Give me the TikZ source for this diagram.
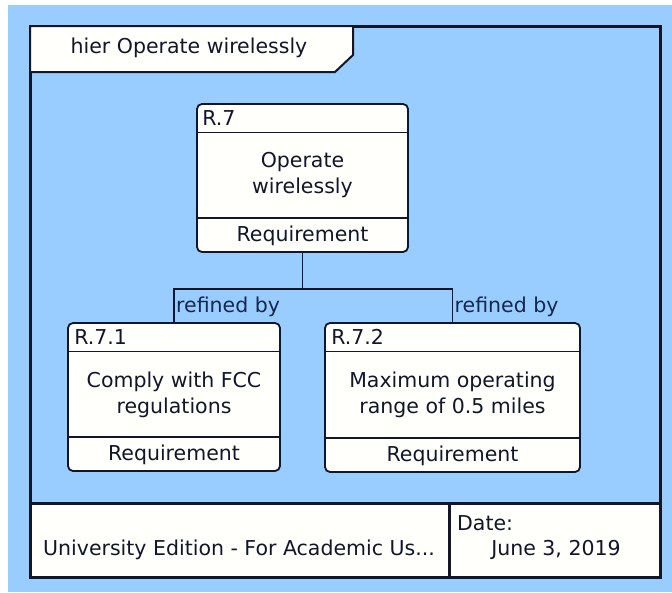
\documentclass[tikz,border=0pt]{standalone}
\usepackage{fontspec}
\setmainfont{DejaVu Sans}
\usetikzlibrary{calc}
\definecolor{canvas}{RGB}{153,204,255}
\definecolor{ink}{RGB}{18,22,40}
\definecolor{paper}{RGB}{255,255,252}
\definecolor{labelink}{RGB}{22,40,78}
\begin{document}
\begin{tikzpicture}[x=1pt,y=-1pt,
  txt/.style={font=\fontsize{20.5}{26}\selectfont, text=ink, inner sep=0pt},
  reqbox/.style={draw=ink, line width=1.8pt, fill=paper, rounded corners=5pt, inner sep=0pt},
  divider/.style={draw=ink, line width=1.6pt},
  link/.style={draw=ink, line width=1.8pt},
  linklabel/.style={font=\fontsize{20.5}{26}\selectfont, text=labelink, inner sep=0pt, anchor=base west},
  frameline/.style={draw=ink, line width=3pt}]

% page and canvas
\useasboundingbox (0,0) rectangle (672,592);
\fill[white] (0,0) rectangle (672,592);
\fill[canvas] (8,5) rectangle (672,592);

% diagram frame with footer
\fill[paper] (30,503) rectangle (660,577);
\draw[frameline] (30,503) -- (660,503);
\draw[frameline] (449,503) -- (449,577);
\draw[frameline] (30,26) rectangle (660,577);
\node[txt] (edition) at (239,550) {University Edition - For Academic Us...};
\node[txt, anchor=west] (datekey) at (457,523) {Date:};
\node[txt] (dateval) at (556,550) {June 3, 2019};

% title tab
\filldraw[fill=paper, draw=ink, line width=2pt] (30,26) -- (353,26) -- (353,55) -- (335,72) -- (30,72) -- cycle;
\node[txt] (title) at (189,48) {hier Operate wirelessly};

% requirement boxes
\node[reqbox, minimum width=211, minimum height=148] (r7) at (302.5,178) {};
\node[reqbox, minimum width=212, minimum height=148] (r71) at (174,397) {};
\node[reqbox, minimum width=255, minimum height=149] (r72) at (452.5,397.5) {};

\foreach \b in {r7,r71,r72}{
  \draw[divider] ($(\b.north west)+(0,29.5)$) -- ($(\b.north east)+(0,29.5)$);
  \draw[divider] ($(\b.south west)+(0,-35)$) -- ($(\b.south east)+(0,-35)$);
}

\node[txt, anchor=west] (r7id) at ($(r7.north west)+(6,15)$) {R.7};
\node[txt, align=center] (r7name) at ($(r7.north)+(0,72)$) {Operate\\wirelessly};
\node[txt] (r7kind) at ($(r7.south)+(0,-17)$) {Requirement};

\node[txt, anchor=west] (r71id) at ($(r71.north west)+(7,15)$) {R.7.1};
\node[txt, align=center] (r71name) at ($(r71.north)+(0,73)$) {Comply with FCC\\regulations};
\node[txt] (r71kind) at ($(r71.south)+(0,-17)$) {Requirement};

\node[txt, anchor=west] (r72id) at ($(r72.north west)+(7,15)$) {R.7.2};
\node[txt, align=center] (r72name) at ($(r72.north)+(0,73)$) {Maximum operating\\range of 0.5 miles};
\node[txt] (r72kind) at ($(r72.south)+(0,-17)$) {Requirement};

% refinement links
\coordinate (fork) at ($(r7.south)+(0,36)$);
\draw[link] (r7.south) -- (fork);
\draw[link] (r71.north) |- (fork) -| (r72.north);
\node[linklabel] (lbl1) at ($(r71.north)+(2,-10)$) {refined by};
\node[linklabel] (lbl2) at ($(r72.north)+(2,-10)$) {refined by};

\end{tikzpicture}
\end{document}
